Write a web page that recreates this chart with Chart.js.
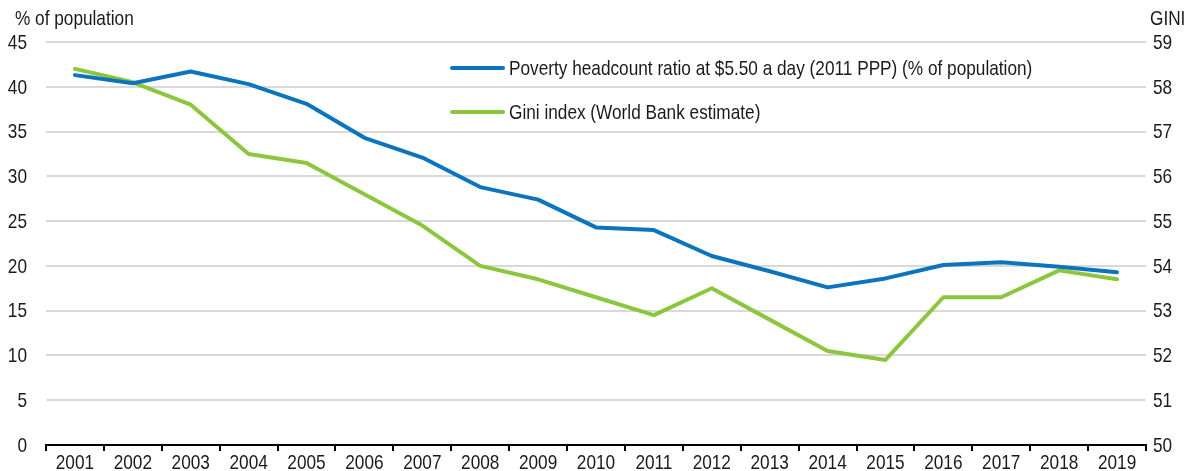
<!DOCTYPE html>
<html>
<head>
<meta charset="utf-8">
<script src="https://cdn.jsdelivr.net/npm/chart.js@4"></script>
<style>
  html, body { margin: 0; padding: 0; background: #fff; }
  #wrap { width: 1187px; height: 471px; position: relative; }
</style>
</head>
<body>
<div id="wrap"><canvas id="c" width="1187" height="471"></canvas></div>
<script>
const years = ['2001','2002','2003','2004','2005','2006','2007','2008','2009','2010','2011','2012','2013','2014','2015','2016','2017','2018','2019'];
const poverty = [41.3, 40.4, 41.7, 40.3, 38.1, 34.3, 32.1, 28.8, 27.4, 24.3, 24.0, 21.1, 19.4, 17.6, 18.6, 20.1, 20.4, 19.9, 19.3];
const gini = [58.4, 58.1, 57.6, 56.5, 56.3, 55.6, 54.9, 54.0, 53.7, 53.3, 52.9, 53.5, 52.8, 52.1, 51.9, 53.3, 53.3, 53.9, 53.7];
const povertyLabel = 'Poverty headcount ratio at $5.50 a day (2011 PPP) (% of population)';
const giniLabel = 'Gini index (World Bank estimate)';
const leftTitle = '% of population';
const rightTitle = 'GINI';

const FONT = '"Liberation Sans", Arial, sans-serif';
const SIZE = 21;
const SQUEEZE = 0.82;   // narrow-font look
const TEXT = '#1a1a1a';
const BLUE = '#0b74bd';
const GREEN = '#8cc63f';

function narrowText(ctx, text, x, y, align) {
  ctx.save();
  ctx.translate(x, y);
  ctx.scale(SQUEEZE, 1);
  ctx.textAlign = align;
  ctx.fillText(text, 0, 0);
  ctx.restore();
}

const overlay = {
  id: 'overlay',
  afterDraw(chart) {
    const ctx = chart.ctx;
    const ca = chart.chartArea;
    ctx.save();
    ctx.font = SIZE + 'px ' + FONT;
    ctx.fillStyle = TEXT;
    ctx.textBaseline = 'middle';
    // axis titles
    narrowText(ctx, leftTitle, 15, 19, 'left');
    narrowText(ctx, rightTitle, ca.right + 4, 19, 'left');
    // tick labels from the library's scales
    const xs = chart.scales.x, ys = chart.scales.y, y2 = chart.scales.y2;
    xs.ticks.forEach((t, i) => {
      narrowText(ctx, xs.getLabelForValue(t.value), xs.getPixelForTick(i), ca.bottom + 18, 'center');
    });
    ys.ticks.forEach((t) => {
      narrowText(ctx, String(t.label), ca.left - 19, ys.getPixelForValue(t.value) + 1, 'right');
    });
    y2.ticks.forEach((t) => {
      narrowText(ctx, String(t.label), ca.right + 7, y2.getPixelForValue(t.value) + 1, 'left');
    });
    // legend
    const lx = 452, ly0 = 68, gap = 44;
    chart.data.datasets.forEach((ds, i) => {
      const y = ly0 + i * gap;
      ctx.strokeStyle = ds.borderColor;
      ctx.lineWidth = 4;
      ctx.lineCap = 'round';
      ctx.beginPath();
      ctx.moveTo(lx, y);
      ctx.lineTo(lx + 51, y);
      ctx.stroke();
      ctx.fillStyle = TEXT;
      narrowText(ctx, ds.label, lx + 57, y + 1, 'left');
    });
    ctx.restore();
  }
};

new Chart(document.getElementById('c'), {
  type: 'line',
  data: {
    labels: years,
    datasets: [
      { label: povertyLabel, data: poverty, yAxisID: 'y', borderColor: BLUE, backgroundColor: BLUE, borderWidth: 4, pointRadius: 0, tension: 0, borderCapStyle: 'round', borderJoinStyle: 'round' },
      { label: giniLabel, data: gini, yAxisID: 'y2', borderColor: GREEN, backgroundColor: GREEN, borderWidth: 4, pointRadius: 0, tension: 0, borderCapStyle: 'round', borderJoinStyle: 'round' }
    ]
  },
  options: {
    responsive: false,
    animation: false,
    devicePixelRatio: 1,
    layout: { padding: { top: 42, left: 0, right: 0, bottom: 0 } },
    plugins: { legend: { display: false }, tooltip: { enabled: false }, title: { display: false } },
    scales: {
      x: {
        type: 'category',
        offset: true,
        grid: { display: true, drawOnChartArea: false, drawTicks: true, tickLength: 6, color: '#000', lineWidth: 2, offset: true },
        border: { display: true, color: '#000', width: 2 },
        ticks: { display: false, autoSkip: false, maxRotation: 0 },
        afterFit(s) { s.height = 26; }
      },
      y: {
        position: 'left',
        min: 0, max: 45,
        ticks: { display: false, stepSize: 5 },
        grid: { color: '#d9d9d9', lineWidth: 2, drawTicks: false },
        border: { display: false },
        afterFit(s) { s.width = 46; }
      },
      y2: {
        position: 'right',
        min: 50, max: 59,
        ticks: { display: false, stepSize: 1 },
        grid: { display: false, drawTicks: false },
        border: { display: false },
        afterFit(s) { s.width = 41; }
      }
    }
  },
  plugins: [overlay]
});
</script>
</body>
</html>
